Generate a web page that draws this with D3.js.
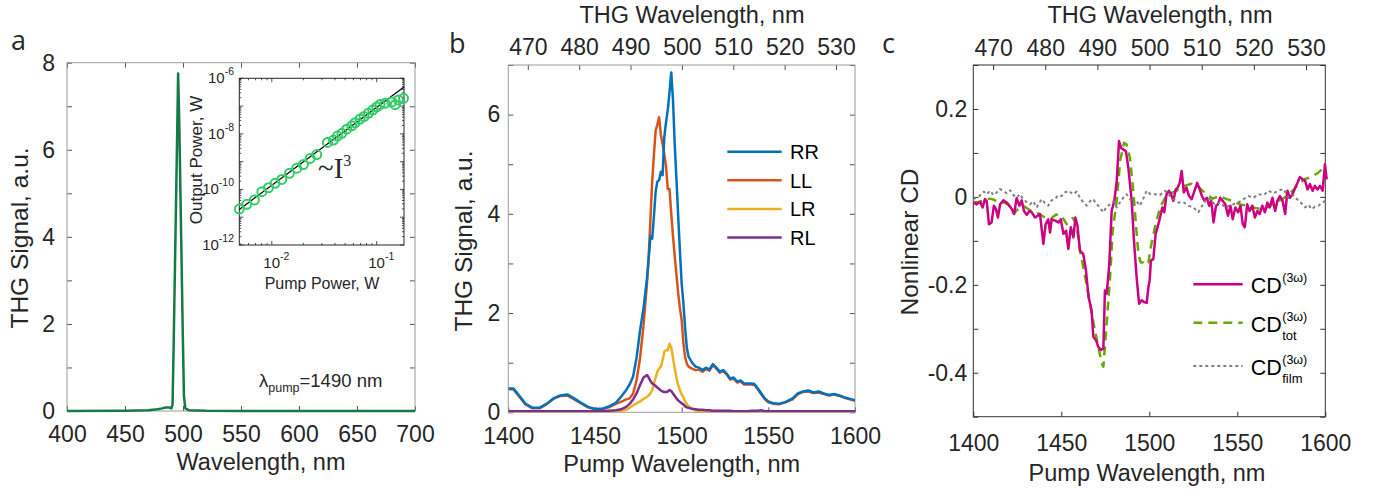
<!DOCTYPE html>
<html>
<head>
<meta charset="utf-8">
<script src="https://cdn.jsdelivr.net/npm/d3@7"></script>
<style>
  body { margin: 0; background: #fff; }
</style>
</head>
<body>
<script>
// ---- panel a: THG spectrum at 1490 nm pump ----
const aWave   = [400, 450, 470, 478, 482, 485, 488, 490, 491, 492, 493, 494, 495, 495.8, 496.8, 497.8, 498.8, 499.8, 500.8, 502, 505, 520, 550, 700];
const aSignal = [0, 0.005, 0.015, 0.04, 0.06, 0.08, 0.08, 0.06, 0.15, 1.6, 3.2, 4.8, 6.4, 7.75, 6.6, 5.0, 3.4, 1.8, 0.35, 0.06, 0.02, 0.005, 0, 0];
const aXTicks = [400, 450, 500, 550, 600, 650, 700];
const aYTicks = [0, 1, 2, 3, 4, 5, 6, 7, 8];
const aYLabels = [0, 2, 4, 6, 8];

// inset: output vs pump power (log-log)
const insetPump = [0.0049, 0.00578, 0.00683, 0.00804, 0.00929, 0.01074, 0.01245, 0.01472, 0.0173, 0.0200,
                   0.0232, 0.0268, 0.0339, 0.0387, 0.0422, 0.0465, 0.0518, 0.0578, 0.0621, 0.0693,
                   0.0757, 0.0832, 0.0916, 0.100, 0.1075, 0.120, 0.139, 0.150, 0.161, 0.180];
const insetOut  = [1.97e-11, 2.9e-11, 4.2e-11, 8.3e-11, 1.15e-10, 1.66e-10, 2.3e-10, 3.8e-10, 5.8e-10, 7.9e-10,
                   1.3e-9, 1.8e-9, 4.9e-9, 6.0e-9, 8.3e-9, 1.05e-8, 1.48e-8, 1.95e-8, 2.5e-8, 3.4e-8,
                   4.2e-8, 5.5e-8, 7.2e-8, 9.3e-8, 1.15e-7, 1.26e-7, 1.41e-7, 1.12e-7, 1.66e-7, 1.9e-7];
const fitPump = [0.0049, 0.182];
const fitOut  = [1.9e-11, 4.9e-7];
const insetXLabels = [-2, -1];
const insetYLabels = [-12, -10, -8, -6];

// ---- panel b: THG for four polarisation combinations ----
const bSeries = ['RR', 'LL', 'LR', 'RL'];
const bColors = ['#0072BD', '#D95319', '#EDB120', '#7E2F8E'];
const bPump = [1400, 1403, 1406, 1410, 1414, 1418, 1422, 1426, 1430, 1434,
               1438, 1442, 1446, 1450, 1454, 1458, 1462, 1465, 1468, 1470,
               1472, 1474, 1476, 1478, 1480, 1481, 1482, 1483, 1484, 1485,
               1486, 1487, 1488, 1489, 1490, 1491, 1492, 1493, 1494, 1495,
               1496, 1497, 1498, 1499, 1500, 1501, 1502, 1503, 1504, 1506,
               1508, 1510, 1512, 1514, 1516, 1518, 1520, 1522, 1524, 1526,
               1528, 1530, 1532, 1534, 1536, 1538, 1540, 1542, 1544, 1546,
               1548, 1550, 1553, 1556, 1560, 1564, 1567, 1570, 1573, 1576,
               1579, 1582, 1585, 1588, 1591, 1594, 1597, 1600];
const bRR = [0.48, 0.48, 0.35, 0.17, 0.09, 0.09, 0.17, 0.28, 0.34, 0.36,
             0.28, 0.19, 0.11, 0.07, 0.07, 0.12, 0.19, 0.31, 0.45, 0.56,
             0.72, 1.10, 1.65, 2.10, 2.70, 3.10, 3.55, 3.50, 3.95, 4.45,
             4.65, 4.68, 4.85, 4.78, 5.55, 5.85, 6.10, 6.45, 6.85, 6.30,
             5.40, 4.70, 3.95, 3.25, 2.60, 2.20, 1.70, 1.30, 1.12, 1.00,
             0.92, 0.90, 0.85, 0.90, 0.86, 0.97, 0.90, 0.82, 0.85, 0.78,
             0.68, 0.70, 0.62, 0.64, 0.58, 0.58, 0.58, 0.57, 0.48, 0.38,
             0.28, 0.22, 0.18, 0.17, 0.21, 0.28, 0.38, 0.42, 0.44, 0.40,
             0.42, 0.38, 0.35, 0.37, 0.34, 0.30, 0.27, 0.24];
const bLL = [0.47, 0.46, 0.33, 0.16, 0.08, 0.08, 0.16, 0.27, 0.33, 0.34,
             0.26, 0.18, 0.10, 0.06, 0.06, 0.10, 0.17, 0.21, 0.26, 0.28,
             0.38, 0.65, 1.09, 1.75, 2.60, 3.15, 3.90, 4.65, 5.20, 5.68,
             5.80, 5.95, 5.60, 5.40, 5.20, 4.95, 4.50, 4.50, 4.00, 3.55,
             3.15, 2.78, 2.40, 2.10, 1.86, 1.40, 1.12, 0.98, 0.92, 0.88,
             0.85, 0.86, 0.82, 0.87, 0.84, 0.95, 0.88, 0.80, 0.83, 0.76,
             0.66, 0.68, 0.60, 0.62, 0.56, 0.56, 0.56, 0.55, 0.46, 0.36,
             0.26, 0.20, 0.17, 0.16, 0.20, 0.26, 0.36, 0.41, 0.42, 0.39,
             0.40, 0.37, 0.34, 0.36, 0.33, 0.29, 0.26, 0.23];
const bLR = [0.01, 0.01, 0.01, 0.01, 0.01, 0.01, 0.01, 0.01, 0.01, 0.01,
             0.01, 0.01, 0.01, 0.01, 0.01, 0.01, 0.01, 0.03, 0.05, 0.09,
             0.14, 0.18, 0.22, 0.27, 0.31, 0.34, 0.38, 0.45, 0.58, 0.70,
             0.82, 0.88, 0.92, 1.05, 1.22, 1.25, 1.25, 1.38, 1.30, 1.10,
             0.88, 0.70, 0.55, 0.45, 0.36, 0.30, 0.22, 0.16, 0.12, 0.07,
             0.04, 0.02, 0.01, 0.01, 0.01, 0.01, 0.01, 0.01, 0.01, 0.01,
             0.01, 0.01, 0.01, 0.01, 0.01, 0.01, 0.01, 0.01, 0.01, 0.01,
             0.01, 0.01, 0.01, 0.01, 0.01, 0.01, 0.01, 0.01, 0.01, 0.01,
             0.01, 0.01, 0.01, 0.01, 0.01, 0.01, 0.01, 0.01];
const bRL = [0.02, 0.02, 0.02, 0.02, 0.02, 0.02, 0.02, 0.02, 0.02, 0.02,
             0.02, 0.02, 0.02, 0.02, 0.02, 0.03, 0.04, 0.06, 0.11, 0.17,
             0.26, 0.38, 0.55, 0.70, 0.75, 0.70, 0.63, 0.58, 0.56, 0.53,
             0.50, 0.47, 0.44, 0.42, 0.41, 0.41, 0.42, 0.45, 0.43, 0.38,
             0.33, 0.28, 0.24, 0.21, 0.18, 0.16, 0.12, 0.10, 0.09, 0.07,
             0.06, 0.05, 0.05, 0.04, 0.04, 0.03, 0.03, 0.03, 0.03, 0.03,
             0.03, 0.02, 0.02, 0.02, 0.02, 0.02, 0.03, 0.03, 0.03, 0.04,
             0.02, 0.02, 0.02, 0.02, 0.02, 0.02, 0.02, 0.02, 0.02, 0.02,
             0.02, 0.02, 0.02, 0.02, 0.02, 0.02, 0.02, 0.02];
const pumpTicks = [1400, 1450, 1500, 1550, 1600];
const thgTicks = [470, 480, 490, 500, 510, 520, 530];
const thgDomain = [466.2, 533.7];
const bYTicks = [0, 1, 2, 3, 4, 5, 6, 7];
const bYLabels = [0, 2, 4, 6];

// ---- panel c: nonlinear CD ----
const cdPump = [1400, 1401.9, 1403.8, 1405.3, 1406.6, 1407.6, 1408.9, 1410.4, 1411.7, 1412.9,
                1414, 1415.2, 1417.1, 1419, 1420.5, 1421.9, 1423.2, 1424.6, 1426.2, 1427.5,
                1428.8, 1430.3, 1431.9, 1433.2, 1435.1, 1436.6, 1437.9, 1439.8, 1441.1, 1442.6,
                1443.6, 1444.5, 1446.5, 1448.4, 1449.7, 1451.2, 1452.7, 1454, 1455.4, 1456.9,
                1458, 1459.2, 1460.6, 1462.5, 1464, 1465.5, 1467.2, 1468.2, 1469.7, 1471,
                1472.5, 1473.9, 1474.8, 1475.8, 1477.3, 1478.6, 1480.1, 1481.5, 1482.8, 1483.9,
                1485.2, 1486.7, 1488.1, 1490, 1491.3, 1492.8, 1494.2, 1495.7, 1497, 1498.5,
                1499.5, 1500.2, 1500.9, 1502.3, 1503.6, 1504.7, 1506.1, 1507.4, 1508.5, 1509.8,
                1511.2, 1512.3, 1513.7, 1515, 1516.1, 1517.3, 1518.4, 1519.6, 1521.1, 1522.6,
                1524.1, 1525.7, 1527.2, 1528.3, 1529.9, 1531.4, 1532.7, 1534, 1535.2, 1536.5,
                1537.9, 1539, 1540.3, 1541.7, 1543.2, 1544.7, 1546.1, 1547.4, 1548.9, 1550.5,
                1551.8, 1553.1, 1554.3, 1555.6, 1557, 1558.5, 1560, 1561.4, 1562.7, 1564.2,
                1565.7, 1567.1, 1568.4, 1570, 1571.5, 1572.8, 1574.2, 1575.7, 1577.2, 1578.5,
                1579.9, 1581.4, 1582.9, 1584.2, 1585.6, 1587.1, 1588.6, 1589.9, 1591.3, 1592.8,
                1594.1, 1595.6, 1597, 1598.5, 1599.8, 1600.8];
const cdVal = [-0.013, -0.017, -0.011, -0.024, -0.005, -0.009, -0.062, -0.058, -0.020, -0.028,
               -0.047, -0.017, -0.008, -0.013, -0.020, -0.028, -0.039, -0.003, -0.020, -0.008,
               -0.032, -0.041, -0.032, -0.035, -0.047, -0.043, -0.039, -0.107, -0.062, -0.051,
               -0.081, -0.051, -0.054, -0.058, -0.051, -0.084, -0.077, -0.118, -0.069, -0.092,
               -0.047, -0.066, -0.122, -0.130, -0.167, -0.228, -0.258, -0.318, -0.326, -0.341,
               -0.348, -0.345, -0.213, -0.220, -0.152, -0.032, -0.009, 0.036, 0.127, 0.112,
               0.108, 0.104, 0.066, -0.009, -0.100, -0.183, -0.243, -0.235, -0.239, -0.241,
               -0.205, -0.190, -0.145, -0.141, -0.084, -0.069, -0.047, -0.024, -0.035, 0.006,
               0.014, 0.006, -0.009, 0.017, 0.021, 0.032, 0.059, 0.010, 0.021, 0.002,
               -0.005, 0.014, 0.032, 0.021, 0.002, -0.009, -0.002, -0.020, -0.009, -0.058,
               -0.020, -0.017, -0.002, -0.009, -0.017, -0.043, -0.020, -0.051, -0.024, -0.035,
               -0.020, -0.062, -0.069, -0.017, -0.032, -0.020, -0.047, -0.032, -0.039, -0.020,
               -0.035, -0.013, -0.024, -0.002, -0.032, -0.009, 0.002, -0.009, -0.039, 0.014,
               -0.002, 0.006, 0.021, 0.032, 0.045, 0.040, 0.036, 0.017, 0.029, 0.014,
               0.025, 0.017, 0.025, 0.014, 0.074, 0.040];
const totPump = [1400, 1403, 1406, 1409, 1411.5, 1414, 1417, 1420, 1423, 1426,
                 1429, 1432, 1435, 1438, 1441, 1444, 1447, 1450, 1453, 1456.5,
                 1458.5, 1460.6, 1463, 1465, 1467, 1469.1, 1471, 1473, 1473.9, 1475.8,
                 1477.7, 1479.2, 1481.5, 1483.4, 1485.6, 1487.1, 1489, 1490.9, 1492.4, 1493.8,
                 1495.1, 1496.6, 1498.5, 1499.5, 1500.4, 1501.4, 1503.2, 1505.1, 1507, 1509,
                 1512, 1516, 1520, 1524, 1528, 1532, 1536, 1540, 1544, 1548,
                 1552, 1556, 1560, 1564, 1568, 1572, 1576, 1580, 1584, 1588,
                 1592, 1596, 1600];
const totVal = [-0.012, -0.012, -0.008, -0.004, -0.006, -0.012, -0.012, -0.018, -0.038, -0.025,
                -0.022, -0.030, -0.034, -0.040, -0.048, -0.050, -0.040, -0.042, -0.062, -0.048,
                -0.060, -0.122, -0.170, -0.213, -0.260, -0.303, -0.341, -0.379, -0.386, -0.288,
                -0.183, -0.077, -0.009, 0.081, 0.123, 0.119, 0.089, 0.014, -0.062, -0.130,
                -0.149, -0.149, -0.155, -0.150, -0.125, -0.103, -0.069, -0.039, -0.017, -0.002,
                0.008, 0.015, 0.025, 0.030, 0.022, 0.008, -0.004, 0.002, -0.005, -0.010,
                -0.018, -0.020, -0.025, -0.028, -0.022, -0.012, -0.004, 0.008, 0.025, 0.040,
                0.045, 0.055, 0.070];
const filmPump = [1400, 1403, 1406, 1407.6, 1409.5, 1411.5, 1413.3, 1415, 1417.1, 1419,
                  1420.9, 1422.8, 1424.6, 1426.5, 1428.4, 1430.3, 1432.2, 1434, 1436, 1438.8,
                  1440.7, 1442.6, 1444.5, 1446.4, 1448.3, 1450.2, 1452, 1454, 1456.8, 1458.7,
                  1460.6, 1462.5, 1464.4, 1466.3, 1468.2, 1469.6, 1471, 1472.5, 1473.9, 1475.8,
                  1477.7, 1479.6, 1481.5, 1483.4, 1485.2, 1487.1, 1489, 1490.9, 1492.8, 1494.7,
                  1496.6, 1498.5, 1500.5, 1503.2, 1506, 1508.9, 1510.8, 1512.7, 1514.6, 1516.5,
                  1519.4, 1522.2, 1525, 1527.9, 1530.7, 1533.5, 1535.4, 1537.3, 1540.2, 1543,
                  1546.8, 1550.6, 1553.5, 1556.3, 1559.2, 1562, 1564.9, 1567.7, 1570.5, 1573.3,
                  1576.2, 1579, 1581.9, 1584.7, 1586.6, 1588.5, 1590.4, 1592.3, 1594.2, 1596.1,
                  1598, 1600];
const filmVal = [-0.005, 0.000, 0.012, 0.006, 0.014, 0.004, 0.010, 0.018, 0.014, 0.008,
                 0.015, 0.004, -0.002, 0.006, -0.005, -0.012, -0.017, -0.010, -0.024, -0.005,
                 -0.014, -0.020, -0.008, -0.005, 0.004, 0.002, 0.010, 0.014, 0.006, 0.012,
                 -0.002, -0.012, -0.020, -0.010, -0.005, -0.015, -0.020, -0.028, -0.035, -0.022,
                 -0.017, -0.010, -0.024, -0.012, -0.002, 0.006, -0.005, -0.017, -0.010, -0.020,
                 -0.004, 0.014, 0.006, 0.006, 0.004, 0.014, 0.006, -0.002, -0.008, -0.013,
                 -0.012, -0.020, -0.024, -0.035, -0.015, -0.002, -0.010, -0.017, -0.012, -0.024,
                 -0.018, -0.013, -0.005, 0.002, -0.002, 0.006, 0.004, 0.014, 0.008, 0.014,
                 0.018, -0.002, 0.004, -0.009, -0.015, -0.024, -0.018, -0.028, -0.022, -0.020,
                 -0.014, -0.009];
const cYTicks = [-0.5, -0.4, -0.3, -0.2, -0.1, 0, 0.1, 0.2, 0.3];
const cYLabels = [-0.4, -0.2, 0, 0.2];

const FONT = 'Arial, "Liberation Sans", Helvetica, sans-serif';
const INK = '#262626';
const TICK_FS = 23;

const svg = d3.select('body').append('svg')
  .attr('width', 1373)
  .attr('height', 492)
  .attr('font-family', FONT);
svg.append('rect').attr('width', 1373).attr('height', 492).attr('fill', '#fff');

let clipId = 0;
const plain = d => String(d);

// boxed axes with inward ticks on all four sides (matlab style)
function boxAxes(x, y, o) {
  const [x0, x1] = x.range();
  const [y0, y1] = y.range();
  const g = svg.append('g');
  const put = (axis, tx, ty) => {
    const a = g.append('g')
      .attr('transform', `translate(${tx},${ty})`)
      .call(axis)
      .attr('font-family', FONT)
      .attr('font-size', TICK_FS);
    a.select('.domain').remove();
    a.selectAll('.tick line').attr('stroke', o.tick);
    a.selectAll('.tick text').attr('fill', INK);
    return a;
  };
  put(d3.axisBottom(x).tickValues(o.xTicks).tickSize(-5).tickSizeOuter(0)
    .tickPadding(o.xPad).tickFormat(plain), 0, y0);
  if (o.top) {
    put(d3.axisTop(o.top).tickValues(thgTicks).tickSize(-5).tickSizeOuter(0)
      .tickPadding(o.topPad).tickFormat(plain), 0, y1);
  } else {
    put(d3.axisTop(x).tickValues(o.xTicks).tickSize(-5).tickSizeOuter(0).tickFormat(''), 0, y1);
  }
  put(d3.axisLeft(y).tickValues(o.yTicks).tickSize(-5).tickSizeOuter(0).tickPadding(o.yPad)
    .tickFormat(d => o.yLabels.includes(d) ? o.yFmt(d) : ''), x0, 0);
  put(d3.axisRight(y).tickValues(o.yTicks).tickSize(-5).tickSizeOuter(0).tickFormat(''), x1, 0);
  g.append('rect')
    .attr('x', x0).attr('y', y1)
    .attr('width', x1 - x0).attr('height', y0 - y1)
    .attr('fill', 'none').attr('stroke', o.box);
  return g;
}

function clipFor(x, y) {
  const id = 'clip' + (clipId++);
  svg.append('clipPath').attr('id', id).append('rect')
    .attr('x', x.range()[0]).attr('y', y.range()[1])
    .attr('width', x.range()[1] - x.range()[0])
    .attr('height', y.range()[0] - y.range()[1]);
  return `url(#${id})`;
}

function label(txt, x, y, size, opts = {}) {
  const t = svg.append('text')
    .attr('x', x).attr('y', y)
    .attr('font-size', size)
    .attr('fill', INK)
    .attr('text-anchor', opts.anchor || 'middle')
    .text(txt);
  if (opts.rotate) t.attr('transform', `rotate(-90,${x},${y})`);
  if (opts.family) t.attr('font-family', opts.family);
  return t;
}

// ================= panel a =================
const xA = d3.scaleLinear().domain([400, 700]).range([67, 415]);
const yA = d3.scaleLinear().domain([0, 8]).range([411, 62.7]);
boxAxes(xA, yA, {
  xTicks: aXTicks, yTicks: aYTicks, yLabels: aYLabels, yFmt: plain,
  xPad: 15, yPad: 12, tick: '#555', box: '#9a9a9a'
});
svg.append('path')
  .datum(d3.zip(aWave, aSignal))
  .attr('fill', 'none')
  .attr('stroke', '#167a48')
  .attr('stroke-width', 2.5)
  .attr('stroke-linejoin', 'round')
  .attr('d', d3.line().x(d => xA(d[0])).y(d => yA(d[1])));

label('Wavelength, nm', 261, 470, 23.5);
label('THG Signal, a.u.', 28, 238, 24.5, { rotate: true });
const lam = svg.append('text').attr('x', 259).attr('y', 387).attr('font-size', 18.5).attr('fill', INK);
lam.append('tspan').text('λ');
lam.append('tspan').attr('dy', 5).attr('font-size', 12.5).text('pump');
lam.append('tspan').attr('dy', -5).text('=1490 nm');

// inset
const xI = d3.scaleLog().domain([0.0049, 0.182]).range([239.3, 404]);
const yI = d3.scaleLog().domain([1e-12, 1e-6]).range([245, 78.3]);
svg.append('rect')
  .attr('x', 239.3).attr('y', 78.3)
  .attr('width', 404 - 239.3).attr('height', 245 - 78.3)
  .attr('fill', '#fff').attr('stroke', INK);
const isMajor = d => Math.abs(Math.log10(d) - Math.round(Math.log10(d))) < 1e-6;
const insetTicks = svg.append('g').attr('stroke', INK).attr('stroke-width', 0.8);
xI.ticks().forEach(d => {
  const len = isMajor(d) ? 4 : 2;
  insetTicks.append('line').attr('x1', xI(d)).attr('x2', xI(d)).attr('y1', 245).attr('y2', 245 - len);
  insetTicks.append('line').attr('x1', xI(d)).attr('x2', xI(d)).attr('y1', 78.3).attr('y2', 78.3 + len);
});
yI.ticks().forEach(d => {
  const len = isMajor(d) ? 4 : 2;
  insetTicks.append('line').attr('y1', yI(d)).attr('y2', yI(d)).attr('x1', 239.3).attr('x2', 239.3 + len);
  insetTicks.append('line').attr('y1', yI(d)).attr('y2', yI(d)).attr('x1', 404).attr('x2', 404 - len);
});
insetXLabels.forEach(e => {
  const t = svg.append('text').attr('x', xI(Math.pow(10, e)) - 8.5).attr('y', 268)
    .attr('font-size', 15).attr('fill', INK);
  t.append('tspan').text('10');
  t.append('tspan').attr('dy', -8).attr('font-size', 10.5).text(e);
});
insetYLabels.forEach(e => {
  const t = svg.append('text').attr('x', 234).attr('y', yI(Math.pow(10, e)) + 5)
    .attr('font-size', 15).attr('fill', INK).attr('text-anchor', 'end');
  t.append('tspan').text('10');
  t.append('tspan').attr('dy', -8).attr('font-size', 10.5).text(e);
});
svg.append('path')
  .datum(d3.zip(fitPump, fitOut))
  .attr('fill', 'none').attr('stroke', '#000').attr('stroke-width', 1.2)
  .attr('d', d3.line().x(d => xI(d[0])).y(d => yI(d[1])));
svg.append('g').selectAll('circle')
  .data(d3.zip(insetPump, insetOut))
  .join('circle')
  .attr('cx', d => xI(d[0]))
  .attr('cy', d => yI(d[1]))
  .attr('r', 4.5)
  .attr('fill', 'none')
  .attr('stroke', '#33cc66')
  .attr('stroke-width', 2);
label('Pump Power, W', 322, 289, 16);
label('Output Power, W', 202, 160, 17, { rotate: true });
const cube = svg.append('text').attr('x', 318).attr('y', 178)
  .attr('font-family', '"Liberation Serif", "Times New Roman", serif')
  .attr('font-size', 29).attr('fill', INK);
cube.append('tspan').text('~I');
cube.append('tspan').attr('dy', -12).attr('font-size', 16).text('3');

// ================= panel b =================
const xB = d3.scaleLinear().domain([1400, 1600]).range([508.3, 855]);
const yB = d3.scaleLinear().domain([0, 7]).range([412.3, 65]);
const thgB = d3.scaleLinear().domain(thgDomain).range([508.3, 855]);
boxAxes(xB, yB, {
  xTicks: pumpTicks, yTicks: bYTicks, yLabels: bYLabels, yFmt: plain,
  xPad: 15, yPad: 8, top: thgB, topPad: 10, tick: '#555', box: '#9a9a9a'
});
const bValues = { RR: bRR, LL: bLL, LR: bLR, RL: bRL };
const bClip = clipFor(xB, yB);
const lineB = d3.line().x(d => xB(d[0])).y(d => yB(d[1]));
['LL', 'RR', 'LR', 'RL'].forEach(k => {
  svg.append('path')
    .datum(d3.zip(bPump, bValues[k]))
    .attr('clip-path', bClip)
    .attr('fill', 'none')
    .attr('stroke', bColors[bSeries.indexOf(k)])
    .attr('stroke-width', 2.5)
    .attr('stroke-linejoin', 'round')
    .attr('d', lineB);
});
const legB = svg.append('g');
bSeries.forEach((k, i) => {
  const yy = 151.7 + i * 28.6;
  legB.append('line').attr('x1', 727.3).attr('x2', 781.7).attr('y1', yy).attr('y2', yy)
    .attr('stroke', bColors[i]).attr('stroke-width', 2.5);
  legB.append('text').attr('x', 790).attr('y', yy + 7.5).attr('font-size', 20)
    .attr('fill', '#000').text(k);
});
label('Pump Wavelength, nm', 681.7, 472, 23.5);
label('THG Wavelength, nm', 692, 23, 23.5);
label('THG Signal, a.u.', 472, 241, 24.5, { rotate: true });

// ================= panel c =================
const xC = d3.scaleLinear().domain([1400, 1600]).range([973.3, 1325.3]);
const yC = d3.scaleLinear().domain([-0.5, 0.3]).range([416.7, 65]);
const thgC = d3.scaleLinear().domain(thgDomain).range([973.3, 1325.3]);
boxAxes(xC, yC, {
  xTicks: pumpTicks, yTicks: cYTicks, yLabels: cYLabels,
  yFmt: d => d === 0 ? '0' : d.toFixed(1),
  xPad: 18, yPad: 6, top: thgC, topPad: 9, tick: '#333', box: '#333'
});
const lineC = d3.line().x(d => xC(d[0])).y(d => yC(d[1]));
const cSeries = [
  { p: totPump, v: totVal, color: '#66aa00', dash: '9,6', w: 2.5 },
  { p: cdPump, v: cdVal, color: '#cc0080', dash: null, w: 2.5 },
  { p: filmPump, v: filmVal, color: '#808080', dash: '3,3', w: 2 }
];
cSeries.forEach(s => {
  svg.append('path')
    .datum(d3.zip(s.p, s.v))
    .attr('fill', 'none')
    .attr('stroke', s.color)
    .attr('stroke-width', s.w)
    .attr('stroke-dasharray', s.dash)
    .attr('stroke-linejoin', 'round')
    .attr('d', lineC);
});
const cLegend = [
  { y: 284.3, color: '#cc0080', dash: null, sub: '' },
  { y: 322.7, color: '#66aa00', dash: '9,6', sub: 'tot' },
  { y: 366, color: '#808080', dash: '3,3', sub: 'film' }
];
cLegend.forEach(l => {
  svg.append('line').attr('x1', 1193.3).attr('x2', 1242.7).attr('y1', l.y).attr('y2', l.y)
    .attr('stroke', l.color).attr('stroke-width', l.dash === '3,3' ? 2 : 2.5)
    .attr('stroke-dasharray', l.dash);
  const t = svg.append('text').attr('x', 1250.7).attr('y', l.y + 9)
    .attr('font-size', 21.5).attr('fill', '#000').text('CD');
  const w = t.node().getComputedTextLength();
  svg.append('text').attr('x', 1250.7 + w + 0.5).attr('y', l.y - 2)
    .attr('font-size', 12.5).attr('fill', '#000').text('(3ω)');
  if (l.sub) {
    svg.append('text').attr('x', 1250.7 + w + 0.5).attr('y', l.y + 17)
      .attr('font-size', 13).attr('fill', '#000').text(l.sub);
  }
});
label('Pump Wavelength, nm', 1147, 481, 23.5);
label('THG Wavelength, nm', 1160, 23, 23.5);
label('Nonlinear CD', 918, 242, 24.5, { rotate: true });

// panel letters
const letterFont = '"Open Sans", Arial, sans-serif';
label('a', 11, 50, 27, { anchor: 'start', family: letterFont });
label('b', 449, 53, 27, { anchor: 'start', family: letterFont });
label('c', 882, 53, 27, { anchor: 'start', family: letterFont });
</script>
</body>
</html>
